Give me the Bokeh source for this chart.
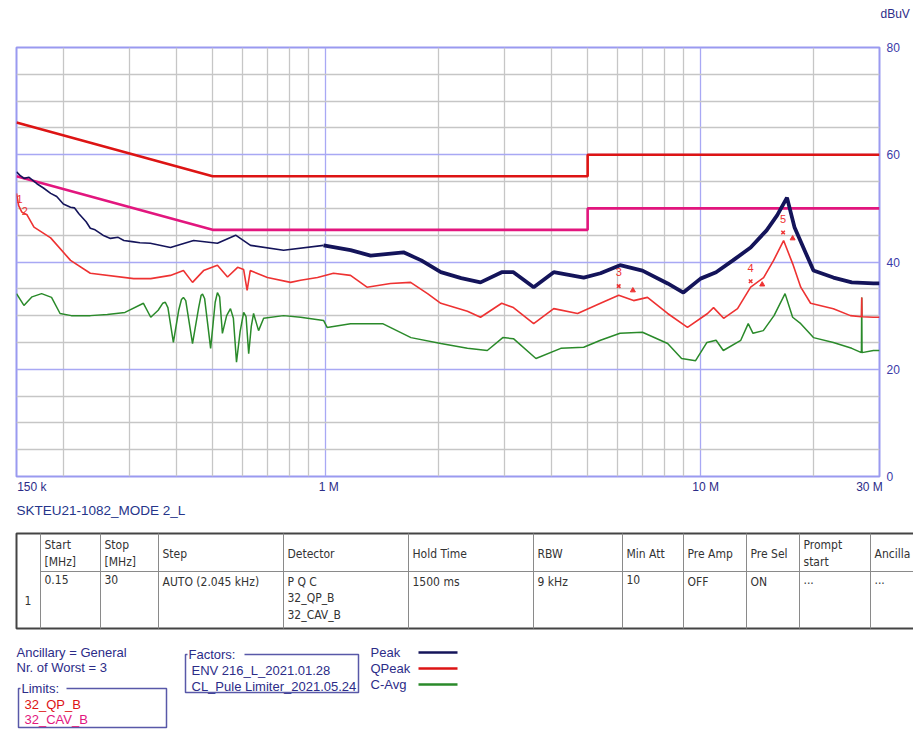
from bokeh.plotting import figure
from bokeh.models import Range1d, FixedTicker, Grid, LinearAxis, LogAxis
from bokeh.layouts import column
from bokeh.embed import file_html
from bokeh.resources import INLINE
from bokeh.core.properties import value

# ---------------- data ----------------
limit_qp_f = [0.15, 0.5, 5.0, 5.0, 30.0]
limit_qp_db = [66, 56, 56, 60, 60]
limit_av_f = [0.15, 0.5, 5.0, 5.0, 30.0]
limit_av_db = [56, 46, 46, 50, 50]

peak_f = [0.150, 0.153, 0.157, 0.162, 0.170, 0.177, 0.185, 0.192, 0.200, 0.209, 0.214, 0.220,
          0.230, 0.236, 0.243, 0.255, 0.267, 0.280, 0.290, 0.305, 0.320, 0.341, 0.386, 0.445,
          0.515, 0.576, 0.631, 0.773, 0.988, 1.166, 1.319, 1.614, 1.80,
          2.03, 2.30, 2.59, 2.95, 3.17, 3.59, 4.06, 4.88, 5.41, 6.1, 7.0, 8.17, 9.0, 10.0,
          11.0, 12.2, 13.6, 15.0, 16.0, 17.0, 17.8, 19.1, 20.0, 22.6, 25.3, 28.9, 30.0]
peak_db = [56.8, 56.2, 55.6, 55.8, 54.6, 53.8, 52.8, 52.2, 50.8, 50.2, 50.1, 49.0,
           47.5, 46.3, 46.0, 45.0, 44.4, 44.6, 44.0, 43.8, 43.6, 43.5, 42.7, 44.0,
           43.5, 45.0, 43.1, 42.2, 43.1, 42.2, 41.2, 41.8, 40.3,
           38.1, 37.0, 36.2, 38.1, 38.1, 35.3, 38.1, 37.1, 37.9, 39.4, 38.4, 36.0, 34.3, 36.9,
           38.1, 40.3, 42.7, 45.9, 48.7, 52.0, 46.5, 41.6, 38.4, 37.1, 36.2, 36.0, 36.0]

qp_f = [0.150, 0.152, 0.155, 0.160, 0.167, 0.185, 0.209, 0.236, 0.308, 0.342, 0.386, 0.418,
        0.442, 0.473, 0.515, 0.548, 0.583, 0.605, 0.618, 0.630, 0.700, 0.807, 0.858, 0.952,
        1.05, 1.166, 1.29, 1.49, 1.686, 1.871, 2.03, 2.39, 2.59, 2.95, 3.17, 3.59, 4.06,
        4.70, 5.41, 6.05, 6.63, 7.22, 8.17, 9.23, 10.44, 10.83, 11.52, 12.55, 13.6, 14.73,
        15.66, 16.65, 17.6, 18.5, 19.65, 22.6, 25.1, 26.85, 26.9, 26.95, 28.9, 30.0]
qp_db = [52.8, 50.5, 49.3, 48.8, 46.5, 44.5, 40.3, 37.9, 36.9, 36.9, 37.5, 38.4,
         36.2, 38.4, 39.4, 37.2, 39.0, 38.6, 34.7, 38.4, 37.1, 36.2, 36.6, 37.1,
         37.9, 37.5, 35.3, 36.0, 36.2, 34.1, 32.3, 30.8, 29.7, 32.3, 31.5, 28.5, 31.3,
         30.4, 32.3, 33.8, 32.8, 33.4, 30.4, 27.8, 30.4, 31.5, 29.5, 31.3, 35.3, 37.1,
         40.3, 44.0, 39.7, 35.3, 32.3, 31.3, 30.0, 29.8, 33.4, 29.8, 29.7, 29.7]

avg_f = [0.150, 0.157, 0.165, 0.175, 0.186, 0.196, 0.210, 0.236, 0.262, 0.292, 0.327, 0.342,
         0.358, 0.368, 0.374, 0.380, 0.393, 0.406, 0.413, 0.418, 0.424, 0.442, 0.459, 0.466,
         0.470, 0.476, 0.494, 0.508, 0.515, 0.522, 0.531, 0.545, 0.558, 0.568, 0.579, 0.592,
         0.605, 0.614, 0.624, 0.634, 0.643, 0.663, 0.684, 0.773, 0.858, 0.988, 1.01, 1.166,
         1.34, 1.42, 1.69, 2.03, 2.39, 2.70, 2.97, 3.17, 3.64, 4.24, 4.88, 5.41, 6.1, 7.0,
         8.17, 8.9, 9.7, 10.4, 11.0, 11.5, 12.8, 13.4, 13.8, 14.7, 15.7, 16.8, 17.6, 18.5,
         20.0, 22.6, 25.3, 26.85, 26.9, 26.95, 28.9, 30.0]
avg_db = [34.1, 31.9, 33.5, 34.1, 33.4, 30.4, 30.0, 30.0, 30.2, 30.6, 32.3, 29.7,
          31.0, 32.3, 32.5, 31.5, 25.0, 31.0, 33.0, 33.4, 32.8, 24.8, 31.5, 33.8,
          34.0, 33.2, 23.9, 32.5, 34.3, 33.5, 26.7, 30.0, 31.3, 29.5, 21.3, 27.0,
          30.6, 29.8, 22.9, 28.0, 30.4, 27.2, 29.5, 30.0, 29.7, 29.1, 27.8, 28.5,
          28.5, 28.5, 25.9, 24.8, 23.9, 23.5, 25.9, 25.7, 22.0, 23.9, 24.1, 25.4, 26.7, 26.9,
          24.8, 22.0, 21.6, 25.0, 25.4, 23.5, 25.4, 28.5, 26.7, 27.2, 30.0, 34.1, 29.7, 28.5,
          25.9, 25.0, 23.9, 23.1, 33.4, 23.1, 23.5, 23.5]

marker_num = ["3", "4", "5"]
marker_qp_f = [6.05, 13.6, 16.6]
marker_qp_db = [35.5, 36.4, 45.5]
marker_av_f = [6.6, 14.6, 17.6]
marker_av_db = [34.7, 35.8, 44.4]
start_num = ["1", "2"]
start_f = [0.150, 0.155]
start_db = [51.8, 49.5]

NB = "\u00a0"
x_tick_vals = [0.15, 1.0, 10.0, 30.0]
x_tick_text = [NB * 5 + "150 k", NB * 2 + "1 M", NB * 3 + "10 M", "30 M" + NB * 6]
y_ticks = [0, 20, 40, 60, 80]
minor_x = [0.2, 0.3, 0.4, 0.5, 0.6, 0.7, 0.8, 0.9, 2, 3, 4, 5, 6, 7, 8, 9, 20]
major_x = [1, 10]
minor_y = [5, 10, 15, 25, 30, 35, 45, 50, 55, 65, 70, 75]
major_y = [20, 40, 60]

NAVY = "#14145a"
RED = "#dd1414"
QPRED = "#ee3232"
MAG = "#e2167e"
GREEN = "#2a8a2a"
TXT = "#2c2c88"
FONT = "Liberation Sans"
TFONT = "DejaVu Sans Condensed"

# ---------------- top strip (unit label) ----------------
top = figure(width=913, height=30, x_range=Range1d(0, 913), y_range=Range1d(30, 0),
             x_axis_location=None, y_axis_location=None, output_backend="svg",
             toolbar_location=None, min_border=0, outline_line_color=None)
top.frame_align = False
for g in top.grid:
    g.visible = False
top.text([880], [13], text=["dBuV"], text_color=TXT, text_font_size="12px",
         text_baseline="middle", text_font=value(FONT))

# ---------------- chart ----------------
p = figure(width=913, height=466, x_axis_type="log", x_range=Range1d(0.15, 30),
           y_range=Range1d(0, 80), x_axis_location=None, y_axis_location=None,
           output_backend="svg", toolbar_location=None,
           min_border_left=16, min_border_right=34, min_border_top=17, min_border_bottom=20)
p.frame_align = False
p.outline_line_color = "#9a9af0"
p.outline_line_width = 2
for g in p.grid:
    g.visible = False

for ticks, col, dim in [(minor_x, "#c6c6c6", 0), (major_x, "#a8a8f4", 0),
                        (minor_y, "#c6c6c6", 1), (major_y, "#a8a8f4", 1)]:
    p.add_layout(Grid(dimension=dim, ticker=FixedTicker(ticks=ticks),
                      grid_line_color=col, grid_line_width=1.3), "center")

ax = LinearAxis(ticker=FixedTicker(ticks=y_ticks), axis_line_color=None,
                major_tick_line_color=None, minor_tick_line_color=None,
                major_tick_out=0, major_tick_in=0,
                major_label_text_color="#3a3aa8", major_label_text_font_size="12px",
                major_label_text_font=FONT, major_label_standoff=7)
p.add_layout(ax, "right")
xa = LogAxis(ticker=FixedTicker(ticks=x_tick_vals), axis_line_color=None,
             major_tick_line_color=None, minor_tick_line_color=None,
             major_tick_out=0, major_tick_in=0,
             major_label_overrides={v: t for v, t in zip(x_tick_vals, x_tick_text)},
             major_label_text_color=TXT, major_label_text_font_size="12px",
             major_label_text_font=FONT, major_label_standoff=3)
p.add_layout(xa, "below")

p.line(limit_qp_f, limit_qp_db, line_color=RED, line_width=2.6)
p.line(limit_av_f, limit_av_db, line_color=MAG, line_width=2.6)

p.line(avg_f, avg_db, line_color=GREEN, line_width=1.5)
p.line(qp_f, qp_db, line_color=QPRED, line_width=1.6)

split = [i for i, f in enumerate(peak_f) if f >= 0.9][0]
p.line(peak_f[:split + 1], peak_db[:split + 1], line_color=NAVY, line_width=1.6)
p.line(peak_f[split:], peak_db[split:], line_color=NAVY, line_width=3.8)

p.text(marker_qp_f, [d + 1.8 for d in marker_qp_db], text=marker_num, text_color=QPRED,
       text_font_size="11px", text_align="center", text_baseline="bottom", text_font=value(FONT))
p.scatter(marker_qp_f, marker_qp_db, marker="x", size=5, line_color=QPRED, line_width=1.5)
p.scatter(marker_av_f, marker_av_db, marker="triangle", size=5, fill_color=QPRED,
          line_color=QPRED)
p.text(start_f, start_db, text=start_num, text_color=QPRED, text_font_size="11px",
       text_align="left", text_baseline="middle", text_font=value(FONT))

# ---------------- table & legend ----------------
q = figure(width=913, height=234, x_range=Range1d(0, 913), y_range=Range1d(730, 496),
           x_axis_location=None, y_axis_location=None, output_backend="svg",
           toolbar_location=None, min_border=0, outline_line_color=None)
q.frame_align = False
for g in q.grid:
    g.visible = False

title_text = "SKTEU21-1082_MODE 2_L"
q.text([16], [510], text=[title_text], text_color="#25348a", text_font_size="13.5px",
       text_baseline="middle", text_font=value(FONT))

col_edges = [16, 40, 100, 158, 283, 408, 533, 622, 683, 746, 799, 870]
headers = ["", "Start\n[MHz]", "Stop\n[MHz]", "Step", "Detector", "Hold Time", "RBW",
           "Min Att", "Pre Amp", "Pre Sel", "Prompt\nstart", "Ancilla"]
row_vals = ["1", "0.15", "30", "AUTO (2.045 kHz)", "P Q C\n32_QP_B\n32_CAV_B", "1500 ms",
            "9 kHz", "10", "OFF", "ON", "...", "..."]
TOP, MID, BOT = 533, 571, 628
q.line([913, 16, 16, 913], [TOP, TOP, BOT, BOT], line_color="#444444", line_width=2)
q.segment(x0=[40], y0=[MID], x1=[913], y1=[MID], line_color="#8a8a8a", line_width=1)
q.segment(x0=col_edges[1:], y0=[TOP] * 11, x1=col_edges[1:], y1=[BOT] * 11,
          line_color="#8a8a8a", line_width=1)
for x0, h in zip(col_edges, headers):
    if h:
        q.text([x0 + 4], [553], text=[h], text_color="#333333", text_font_size="12px",
               text_baseline="middle", text_font=value(TFONT), text_line_height=1.15)
for i, (x0, v) in enumerate(zip(col_edges, row_vals)):
    if i == 0:
        q.text([x0 + 8], [600], text=[v], text_color="#333333", text_font_size="12px",
               text_baseline="middle", text_font=value(TFONT))
    else:
        q.text([x0 + 4], [574], text=[v], text_color="#333333", text_font_size="12px",
               text_baseline="top", text_font=value(TFONT), text_line_height=1.2)

# left info
q.text([16, 16], [652, 667], text=["Ancillary = General", "Nr. of Worst = 3"],
       text_color=TXT, text_font_size="13px", text_baseline="middle", text_font=value(FONT))
# limits box
q.line([66, 166, 166, 18, 18, 20], [688, 688, 727, 727, 688, 688], line_color="#5858a8",
       line_width=1.5)
q.text([21], [688], text=["Limits:"], text_color=TXT, text_font_size="13px",
       text_baseline="middle", text_font=value(FONT))
q.text([24], [704], text=["32_QP_B"], text_color=RED, text_font_size="13px",
       text_baseline="middle", text_font=value(FONT))
q.text([24], [719], text=["32_CAV_B"], text_color=MAG, text_font_size="13px",
       text_baseline="middle", text_font=value(FONT))
# factors box
q.line([244, 358, 358, 185, 185, 187], [654, 654, 692, 692, 654, 654], line_color="#5858a8",
       line_width=1.5)
q.text([188], [654], text=["Factors:"], text_color=TXT, text_font_size="13px",
       text_baseline="middle", text_font=value(FONT))
q.text([191, 191], [670, 686], text=["ENV 216_L_2021.01.28", "CL_Pule Limiter_2021.05.24"],
       text_color=TXT, text_font_size="13px", text_baseline="middle", text_font=value(FONT))
# legend
leg_names = ["Peak", "QPeak", "C-Avg"]
leg_cols = [NAVY, RED, GREEN]
leg_y = [652, 668, 684]
q.text([370] * 3, leg_y, text=leg_names, text_color=TXT, text_font_size="13px",
       text_baseline="middle", text_font=value(FONT))
q.segment(x0=[418] * 3, y0=leg_y, x1=[457] * 3, y1=leg_y, line_color=leg_cols, line_width=2.5)

layout = column(top, p, q, spacing=0)
open("out.html", "w").write(file_html(layout, INLINE))
